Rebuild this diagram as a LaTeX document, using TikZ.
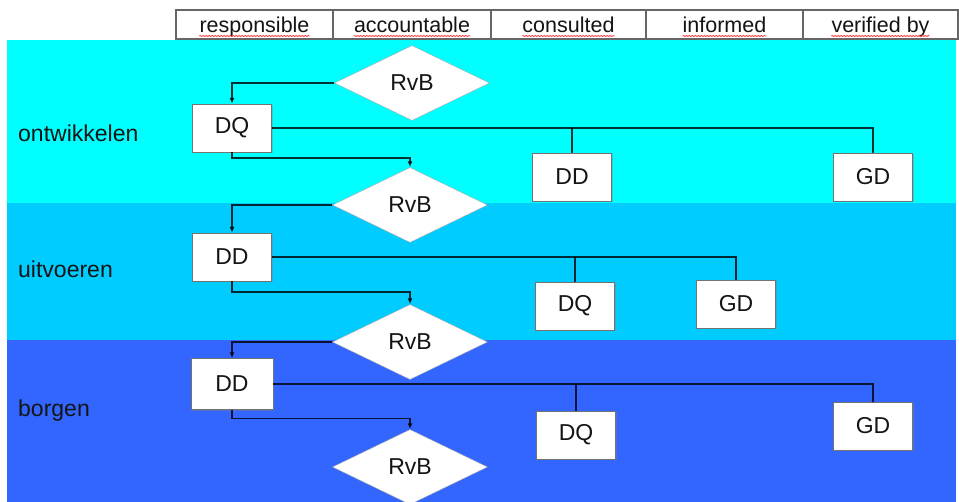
\documentclass[tikz,border=0pt]{standalone}
\usepackage{fontspec}
\setmainfont{Liberation Sans}
\usetikzlibrary{shapes.geometric,shadows,arrows.meta,decorations.pathmorphing}
\definecolor{lane1}{HTML}{00FFFF}
\definecolor{lane2}{HTML}{00CCFF}
\definecolor{lane3}{HTML}{3366FF}
\definecolor{ink}{HTML}{141414}
\begin{document}
\begin{tikzpicture}[x=1pt,y=-1pt,>={Latex[length=6pt,width=5pt]},
  box/.style={draw=black!55,fill=white,rectangle,minimum width=79pt,minimum height=48pt,
    font=\fontsize{23}{26}\selectfont,text=ink,
    drop shadow={shadow xshift=1pt,shadow yshift=-1.5pt,opacity=0.4}},
  choice/.style={draw=black!35,fill=white,diamond,aspect=2.1,inner sep=0pt,
    minimum width=155pt,minimum height=75pt,font=\fontsize{23}{26}\selectfont,text=ink},
  link/.style={draw=black,draw opacity=0.8,fill opacity=0.8,line width=1.6pt},
  lanelabel/.style={anchor=base west,inner sep=0pt,font=\fontsize{23}{26}\selectfont,text=ink},
  hdr/.style={anchor=base,inner sep=0pt,font=\fontsize{21.5}{24}\selectfont,text=ink},
  grid/.style={draw=black!60,line width=1.2pt},
  squiggle/.style={draw=red!75,line width=0.8pt,decorate,
    decoration={snake,amplitude=0.6pt,segment length=3pt}}]
\clip (0,0) rectangle (959,502);
% lanes
\fill[lane1] (7,40) rectangle (956,203);
\fill[lane2] (7,203) rectangle (956,340);
\fill[lane3] (7,340) rectangle (956,502);
\node[lanelabel] (l1) at (18,142) {ontwikkelen};
\node[lanelabel] (l2) at (18,278) {uitvoeren};
\node[lanelabel] (l3) at (18,417) {borgen};
% header
\draw[grid] (176,10) rectangle (958,39);
\foreach \x in {333,491,646,803} \draw[grid] (\x,10) -- (\x,39);
\foreach \n/\x/\t in {resp/254.5/responsible,acc/412/accountable,cons/568.5/consulted,inf/724.5/informed,ver/880.5/verified by}{
  \node[hdr] (\n) at (\x,33) {\t};
  \draw[squiggle] ([yshift=-3pt]\n.base west) -- ([yshift=-3pt]\n.base east);
}
% ontwikkelen
\node[choice] (rvb1) at (412,83) {RvB};
\node[box] (dq1) at (232,128) {DQ};
\node[box] (dd1) at (572,177) {DD};
\node[box] (gd1) at (873,177) {GD};
% uitvoeren
\node[choice] (rvb2) at (410,205) {RvB};
\node[box] (dd2) at (232,257) {DD};
\node[box] (dq2) at (575,306) {DQ};
\node[box] (gd2) at (736,304) {GD};
% borgen
\node[choice] (rvb3) at (410,342) {RvB};
\node[box,minimum width=82pt,minimum height=51pt] (dd3) at (232,384) {DD};
\node[box] (dq3) at (576,435) {DQ};
\node[box] (gd3) at (873,426) {GD};
\node[choice] (rvb4) at (410,467) {RvB};
% connectors
\draw[link,->] (rvb1.west) -| (dq1.north);
\draw[link] (dq1.east) -| (gd1.north);
\draw[link] (dq1.east -| dd1.north) -- (dd1.north);
\draw[link,->] (dq1.south) -- ++(0,6) -| (rvb2.north);
\draw[link,->] (rvb2.west) -| (dd2.north);
\draw[link] (dd2.east) -| (gd2.north);
\draw[link] (dd2.east -| dq2.north) -- (dq2.north);
\draw[link,->] (dd2.south) -- ++(0,11) -| (rvb3.north);
\draw[link,->] (rvb3.west) -| (dd3.north);
\draw[link] (dd3.east) -| (gd3.north);
\draw[link] (dd3.east -| dq3.north) -- (dq3.north);
\draw[link,->] (dd3.south) -- ++(0,9) -| (rvb4.north);
\end{tikzpicture}
\end{document}
